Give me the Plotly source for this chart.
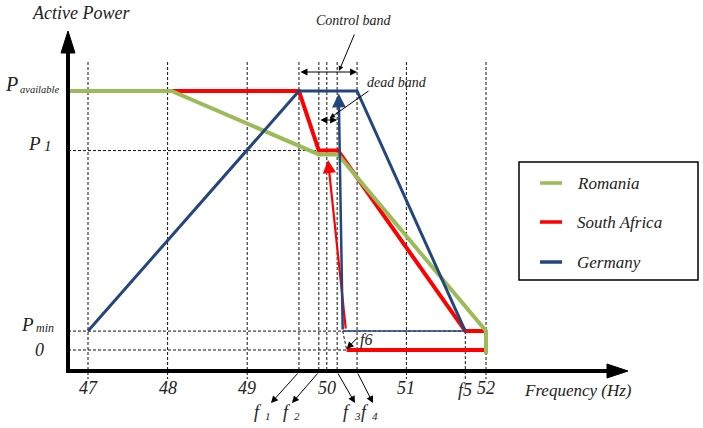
import plotly.graph_objects as go

# ---------------- data ----------------
TICK_FREQS = [47, 48, 49, 50, 51, 52]
TICK_LABELS = ["47", "48", "49", "50", "51", "52"]

F1, F2, F3, F4, F5, F6 = 49.65, 49.90, 50.13, 50.38, 51.74, 50.25
P_AVAIL, P_1, P_MIN, P_ZERO = 100.0, 77.0, 7.3, 0.0

romania_f = [46.75, 48.05, 49.90, 50.14, 52.00, 52.00]
romania_p = [100.0, 100.0, 75.5, 75.5, 7.3, -1.5]

safrica_f = [46.75, 49.65, 49.90, 50.14, 51.74, 52.00]
safrica_p = [100.0, 100.0, 77.0, 77.0, 7.3, 7.3]
safrica_ret_f = [52.00, 52.00]
safrica_ret_p = [7.3, 0.0]
safrica_low_f = [52.00, 50.25]
safrica_low_p = [0.0, 0.0]
safrica_arrow_f = [50.24, 50.015]
safrica_arrow_p = [7.7, 73.4]

germany_f = [47.00, 49.65, 50.38, 51.74]
germany_p = [7.3, 100.0, 100.0, 7.3]
germany_ret_f = [51.74, 50.20]
germany_ret_p = [7.3, 7.3]
germany_arrow_f = [50.20, 50.15]
germany_arrow_p = [7.3, 99.0]

SERIES_NAMES = ["Romania", "South Africa", "Germany"]
COLORS = {"Romania": "#9BBB59", "South Africa": "#FF0000", "Germany": "#24467F"}

# ------------- pixel helpers for decorations -------------
X0PX, PXHZ = 88.0, 79.6
Y0PX, PXU = 350.0, 2.59
def X(px): return 47 + (px - X0PX) / PXHZ
def Y(py): return (Y0PX - py) / PXU

FONT = "Liberation Serif"
TXT = "#222222"

fig = go.Figure()

shapes = []
def dline(x0, y0, x1, y1):
    shapes.append(dict(type="line", x0=x0, y0=y0, x1=x1, y1=y1, xref="x", yref="y",
                       line=dict(color="#111111", width=1, dash="3px,2px"), layer="below"))

# vertical dashed grid lines
for f in [47, 48, 49, 51, 52]:
    dline(f, Y(62), f, Y(379))
for f in [F1, F2, 50, F3, F4]:
    dline(f, Y(62), f, Y(371))
dline(F5, P_MIN, F5, Y(379))
# horizontal dashed lines
dline(X(68), P_1, F2, P_1)
dline(X(68), P_MIN, 52, P_MIN)
dline(X(68), P_ZERO, 52, P_ZERO)
# hysteresis slant
dline(germany_ret_f[1], P_MIN, F6, P_ZERO)

# axes (thick black with arrowheads)
shapes.append(dict(type="line", x0=X(68), y0=Y(373), x1=X(68), y1=Y(50), xref="x", yref="y",
                   line=dict(color="black", width=4)))
shapes.append(dict(type="line", x0=X(66), y0=Y(371), x1=X(610), y1=Y(371), xref="x", yref="y",
                   line=dict(color="black", width=4)))
shapes.append(dict(type="path", xref="x", yref="y", fillcolor="black", line=dict(color="black", width=1),
                   path=f"M {X(61)},{Y(53)} L {X(68)},{Y(31)} L {X(75)},{Y(53)} Z"))
shapes.append(dict(type="path", xref="x", yref="y", fillcolor="black", line=dict(color="black", width=1),
                   path=f"M {X(607)},{Y(364)} L {X(628)},{Y(371)} L {X(607)},{Y(378)} Z"))

# legend box (manual)
shapes.append(dict(type="rect", xref="x", yref="y", x0=X(519), x1=X(698), y0=Y(162), y1=Y(280),
                   line=dict(color="black", width=1.5), fillcolor="white"))
LEG_Y = [183, 222, 262]
for name, ly in zip(SERIES_NAMES, LEG_Y):
    shapes.append(dict(type="line", xref="x", yref="y", x0=X(540), x1=X(562), y0=Y(ly), y1=Y(ly),
                       line=dict(color=COLORS[name], width=3.5)))

# ------------- traces -------------
fig.add_trace(go.Scatter(x=safrica_f, y=safrica_p, mode="lines", name="South Africa",
                         line=dict(color=COLORS["South Africa"], width=4)))
fig.add_trace(go.Scatter(x=safrica_ret_f, y=safrica_ret_p, mode="lines", showlegend=False,
                         line=dict(color="#F4B0B0", width=1.5)))
fig.add_trace(go.Scatter(x=safrica_low_f, y=safrica_low_p, mode="lines", showlegend=False,
                         line=dict(color=COLORS["South Africa"], width=4)))
fig.add_trace(go.Scatter(x=romania_f, y=romania_p, mode="lines", name="Romania",
                         line=dict(color=COLORS["Romania"], width=4)))
fig.add_trace(go.Scatter(x=germany_f, y=germany_p, mode="lines", name="Germany",
                         line=dict(color=COLORS["Germany"], width=3)))
fig.add_trace(go.Scatter(x=germany_ret_f, y=germany_ret_p, mode="lines", showlegend=False,
                         line=dict(color=COLORS["Germany"], width=1.5)))

ann = []
def arrow(tail, head, color="black", width=1.0, size=1.5, side="end", head_style=2):
    ann.append(dict(x=head[0], y=head[1], ax=tail[0], ay=tail[1], xref="x", yref="y",
                    axref="x", ayref="y", text="", showarrow=True, arrowhead=head_style,
                    startarrowhead=head_style, arrowside=side, arrowsize=size,
                    startarrowsize=size, arrowwidth=width, arrowcolor=color, standoff=0,
                    startstandoff=0))

# hysteresis arrows
arrow((safrica_arrow_f[0], safrica_arrow_p[0]), (safrica_arrow_f[1], safrica_arrow_p[1]),
      color=COLORS["South Africa"], width=2.2, size=1.2)
arrow((germany_arrow_f[0], germany_arrow_p[0]), (germany_arrow_f[1], germany_arrow_p[1]),
      color=COLORS["Germany"], width=2.5, size=1.1)

# control band / dead band
arrow((F1, Y(72)), (F4, Y(72)), side="end+start", size=1.4)
arrow((F2, Y(120)), (F3, Y(120)), side="end+start", size=1.4)
arrow((X(355), Y(33)), (X(339), Y(71)), size=1.0)
arrow((X(370), Y(90)), (X(330), Y(118)), size=1.0)
# f-label arrows
arrow((F1, Y(372)), (X(271), Y(403)), size=1.4)
arrow((F2, Y(372)), (X(292), Y(403)), size=1.4)
arrow((F3, Y(372)), (X(355), Y(403)), size=1.4)
arrow((F4, Y(372)), (X(373), Y(403)), size=1.4)
arrow((X(358), Y(337)), (F6, Y(349)), size=1.4)

def text(px, py, s, size=17, anchor="center"):
    ann.append(dict(x=X(px), y=Y(py), xref="x", yref="y", text=s, showarrow=False,
                    xanchor=anchor, yanchor="middle", borderpad=0,
                    font=dict(family=FONT, size=size, color=TXT, style="italic")))

def sub_label(jx, py_main, main, size_main, py_sub, sub, size_sub, gap=1):
    text(jx, py_main, main, size=size_main, anchor="right")
    text(jx + gap, py_sub, sub, size=size_sub, anchor="left")

text(81, 13, "Active Power", size=18)
sub_label(19, 84, "P", 20, 89, "available", 10.5, gap=0)
sub_label(42, 143, "P", 19, 146, "1", 15)
sub_label(35, 324, "P", 19, 328, "min", 12, gap=0)
text(39, 350, "0", size=18)
for f, lab in zip(TICK_FREQS, TICK_LABELS):
    ann.append(dict(x=f, y=Y(388), xref="x", yref="y", text=lab, showarrow=False,
                    xanchor="center", yanchor="middle",
                    font=dict(family=FONT, size=18, color=TXT, style="italic")))
ann.append(dict(x=F5, y=Y(390), xref="x", yref="y", text="f5", showarrow=False,
                xanchor="center", yanchor="middle",
                font=dict(family=FONT, size=18, color=TXT, style="italic")))
text(578, 390, "Frequency (Hz)")
sub_label(263, 412, "f", 18, 416, "1", 11)
sub_label(292, 412, "f", 18, 416, "2", 11)
sub_label(352, 412, "f", 18, 416, "3", 11)
sub_label(370, 412, "f", 18, 416, "4", 11)
text(366, 340, "f6", size=16)
text(354, 20, "Control band", size=14)
text(397, 82, "dead band", size=14)
for name, ly in zip(SERIES_NAMES, LEG_Y):
    text(576, ly, name, size=17, anchor="left")

fig.update_layout(
    width=703, height=428, margin=dict(l=0, r=0, t=0, b=0),
    paper_bgcolor="white", plot_bgcolor="white", showlegend=False,
    xaxis=dict(visible=False, range=[X(0), X(703)], fixedrange=True),
    yaxis=dict(visible=False, range=[Y(428), Y(0)], fixedrange=True),
    shapes=shapes, annotations=ann,
)
fig.write_html("out.html")
